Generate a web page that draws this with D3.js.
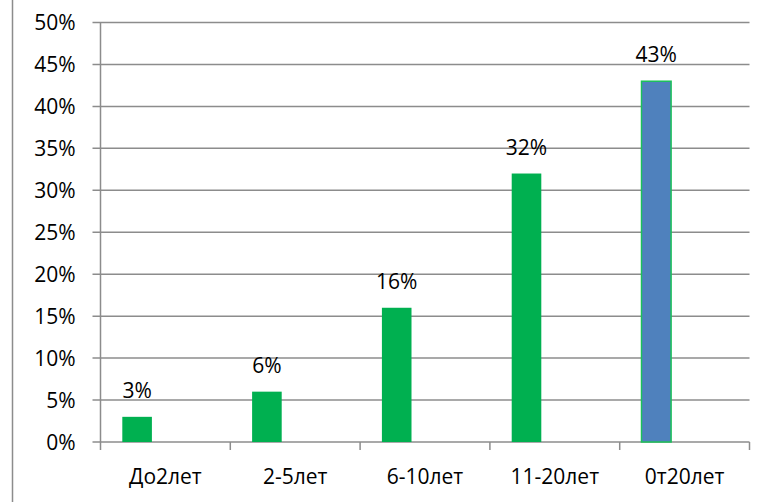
<!DOCTYPE html>
<html>
<head>
<meta charset="utf-8">
<script src="https://cdn.jsdelivr.net/npm/d3@7"></script>
<style>
  body { margin: 0; background: #fff; }
  text { font-family: "Open Sans", "Noto Sans", sans-serif; fill: #000; }
</style>
</head>
<body>
<div id="chart"></div>
<script>
let categories = ["До2лет", "2-5лет", "6-10лет", "11-20лет", "0т20лет"];
let values = [3, 6, 16, 32, 43];
let barColors = ["#00b050", "#00b050", "#00b050", "#00b050", "#4f81bd"];
let yTicks = [0, 5, 10, 15, 20, 25, 30, 35, 40, 45, 50];

let W = 763, H = 502;
let margin = { top: 22.5, right: 13.5, bottom: 60, left: 100.5 },
    width = W - margin.left - margin.right,
    height = H - margin.top - margin.bottom;

let svg = d3.select("#chart")
    .append("svg")
    .attr("width", W)
    .attr("height", H);

// left border of the chart frame
svg.append("line")
    .attr("x1", 12.5).attr("x2", 12.5)
    .attr("y1", 0).attr("y2", H)
    .attr("stroke", "#8c8c8c")
    .attr("stroke-width", 1.5);

let g = svg.append("g")
    .attr("transform", `translate(${margin.left},${margin.top})`);

let x = d3.scaleBand()
    .domain(categories)
    .range([0, width])
    .padding(0);

let y = d3.scaleLinear()
    .domain([0, 50])
    .range([height, 0]);

// gridlines
g.selectAll("line.grid")
    .data(yTicks)
    .enter().append("line")
    .attr("class", "grid")
    .attr("x1", -8)
    .attr("x2", width)
    .attr("y1", d => y(d))
    .attr("y2", d => y(d))
    .attr("stroke", "#8c8c8c")
    .attr("stroke-width", 1.5);

// y axis line
g.append("line")
    .attr("x1", 0).attr("x2", 0)
    .attr("y1", 0).attr("y2", height + 8)
    .attr("stroke", "#8c8c8c")
    .attr("stroke-width", 1.5);

// category tick marks
let bounds = categories.map(c => x(c)).concat([width]);
g.selectAll("line.ctick")
    .data(bounds.slice(1))
    .enter().append("line")
    .attr("class", "ctick")
    .attr("x1", d => d).attr("x2", d => d)
    .attr("y1", height).attr("y2", height + 8)
    .attr("stroke", "#8c8c8c")
    .attr("stroke-width", 1.5);

// y tick labels
g.selectAll("text.ylab")
    .data(yTicks)
    .enter().append("text")
    .attr("class", "ylab")
    .attr("x", -25)
    .attr("y", d => y(d))
    .attr("dy", "0.36em")
    .attr("text-anchor", "end")
    .style("font-size", "21px")
    .text(d => d + "%");

let bw = x.bandwidth();

// bars
g.selectAll("rect.bar")
    .data(values)
    .enter().append("rect")
    .attr("class", "bar")
    .attr("x", (d, i) => x(categories[i]) + bw * 0.168)
    .attr("y", d => y(d))
    .attr("width", bw * 0.228)
    .attr("height", d => height - y(d))
    .attr("fill", (d, i) => barColors[i])
    .attr("stroke", (d, i) => i === 4 ? "#1cc15a" : "none")
    .attr("stroke-width", 1.5);

// value labels
g.selectAll("text.val")
    .data(values)
    .enter().append("text")
    .attr("class", "val")
    .attr("x", (d, i) => x(categories[i]) + bw * 0.168 + bw * 0.114)
    .attr("y", d => y(d) - 19)
    .attr("text-anchor", "middle")
    .style("font-size", "21px")
    .text(d => d + "%");

// category labels
g.selectAll("text.cat")
    .data(categories)
    .enter().append("text")
    .attr("class", "cat")
    .attr("x", d => x(d) + bw / 2)
    .attr("y", height + 42)
    .attr("text-anchor", "middle")
    .style("font-size", "21px")
    .text(d => d);
</script>
</body>
</html>
